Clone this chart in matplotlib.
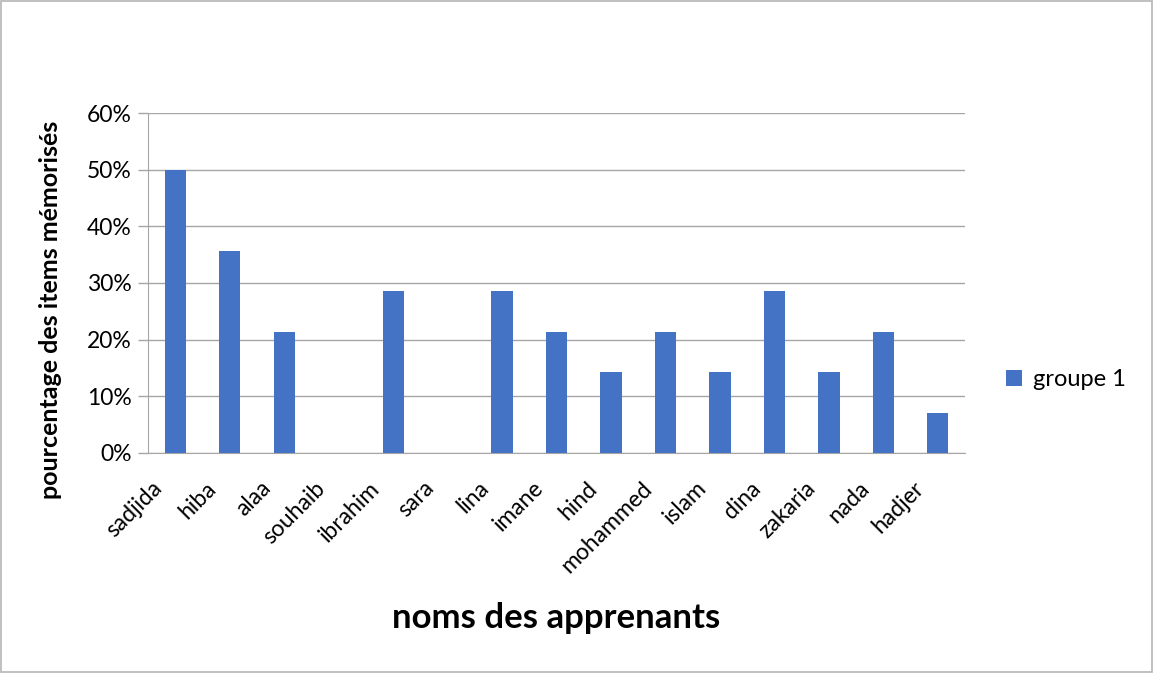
import matplotlib.pyplot as plt
import matplotlib.transforms as mtransforms
from matplotlib.ticker import PercentFormatter

plt.rcParams['font.family'] = ['Lato', 'DejaVu Sans']

# noms des apprenants et pourcentage des items mémorisés (groupe 1)
noms = ['sadjida', 'hiba', 'alaa', 'souhaib', 'ibrahim', 'sara', 'lina', 'imane',
        'hind', 'mohammed', 'islam', 'dina', 'zakaria', 'nada', 'hadjer']
groupe1 = [50.0, 35.7, 21.4, 0, 28.6, 0, 28.6, 21.4,
           14.3, 21.4, 14.3, 28.6, 14.3, 21.4, 7.1]

fig = plt.figure(figsize=(11.53, 6.73), dpi=100)
ax = fig.add_axes([0.1284, 0.327, 0.7086, 0.505])

x = range(len(noms))
ax.bar(x, groupe1, width=0.39, color='#4472C4', label='groupe 1', zorder=3)

ax.set_xlim(-0.5, len(noms) - 0.5)
ax.set_ylim(0, 60)
ax.set_yticks(range(0, 61, 10))
ax.yaxis.set_major_formatter(PercentFormatter(decimals=0))
ax.grid(axis='y', color='#A6A6A6', linewidth=1, zorder=0)

for side in ['top', 'right']:
    ax.spines[side].set_visible(False)
ax.spines['left'].set_color('#A6A6A6')
ax.spines['bottom'].set_color('#A6A6A6')
ax.tick_params(axis='y', length=7, width=1, color='#A6A6A6', labelsize=16.5, pad=5)
ax.tick_params(axis='x', length=0, labelsize=16.5, pad=23)

ax.set_xticks(list(x))
ax.set_xticklabels(noms, rotation=45, ha='right', va='center', rotation_mode='anchor')
shift = mtransforms.ScaledTranslation(-0.17, 0, fig.dpi_scale_trans)
for lab in ax.get_xticklabels():
    lab.set_transform(lab.get_transform() + shift)

ax.set_ylabel('pourcentage des items mémorisés', fontsize=18, fontweight='bold')
ax.yaxis.set_label_coords(-0.105, 0.42)
ax.set_xlabel('noms des apprenants', fontsize=25, fontweight='bold')
ax.xaxis.set_label_coords(0.5, -0.44)

ax.legend(loc='center left', bbox_to_anchor=(1.038, 0.215), frameon=False,
          fontsize=17, handlelength=0.7, handleheight=0.7, handletextpad=0.45,
          borderaxespad=0)

fig.patches.append(plt.Rectangle((0.0005, 0.001), 0.999, 0.998, transform=fig.transFigure,
                                 fill=False, edgecolor='#B5B5B5', linewidth=1.2))

fig.savefig('out.png', dpi=100)
